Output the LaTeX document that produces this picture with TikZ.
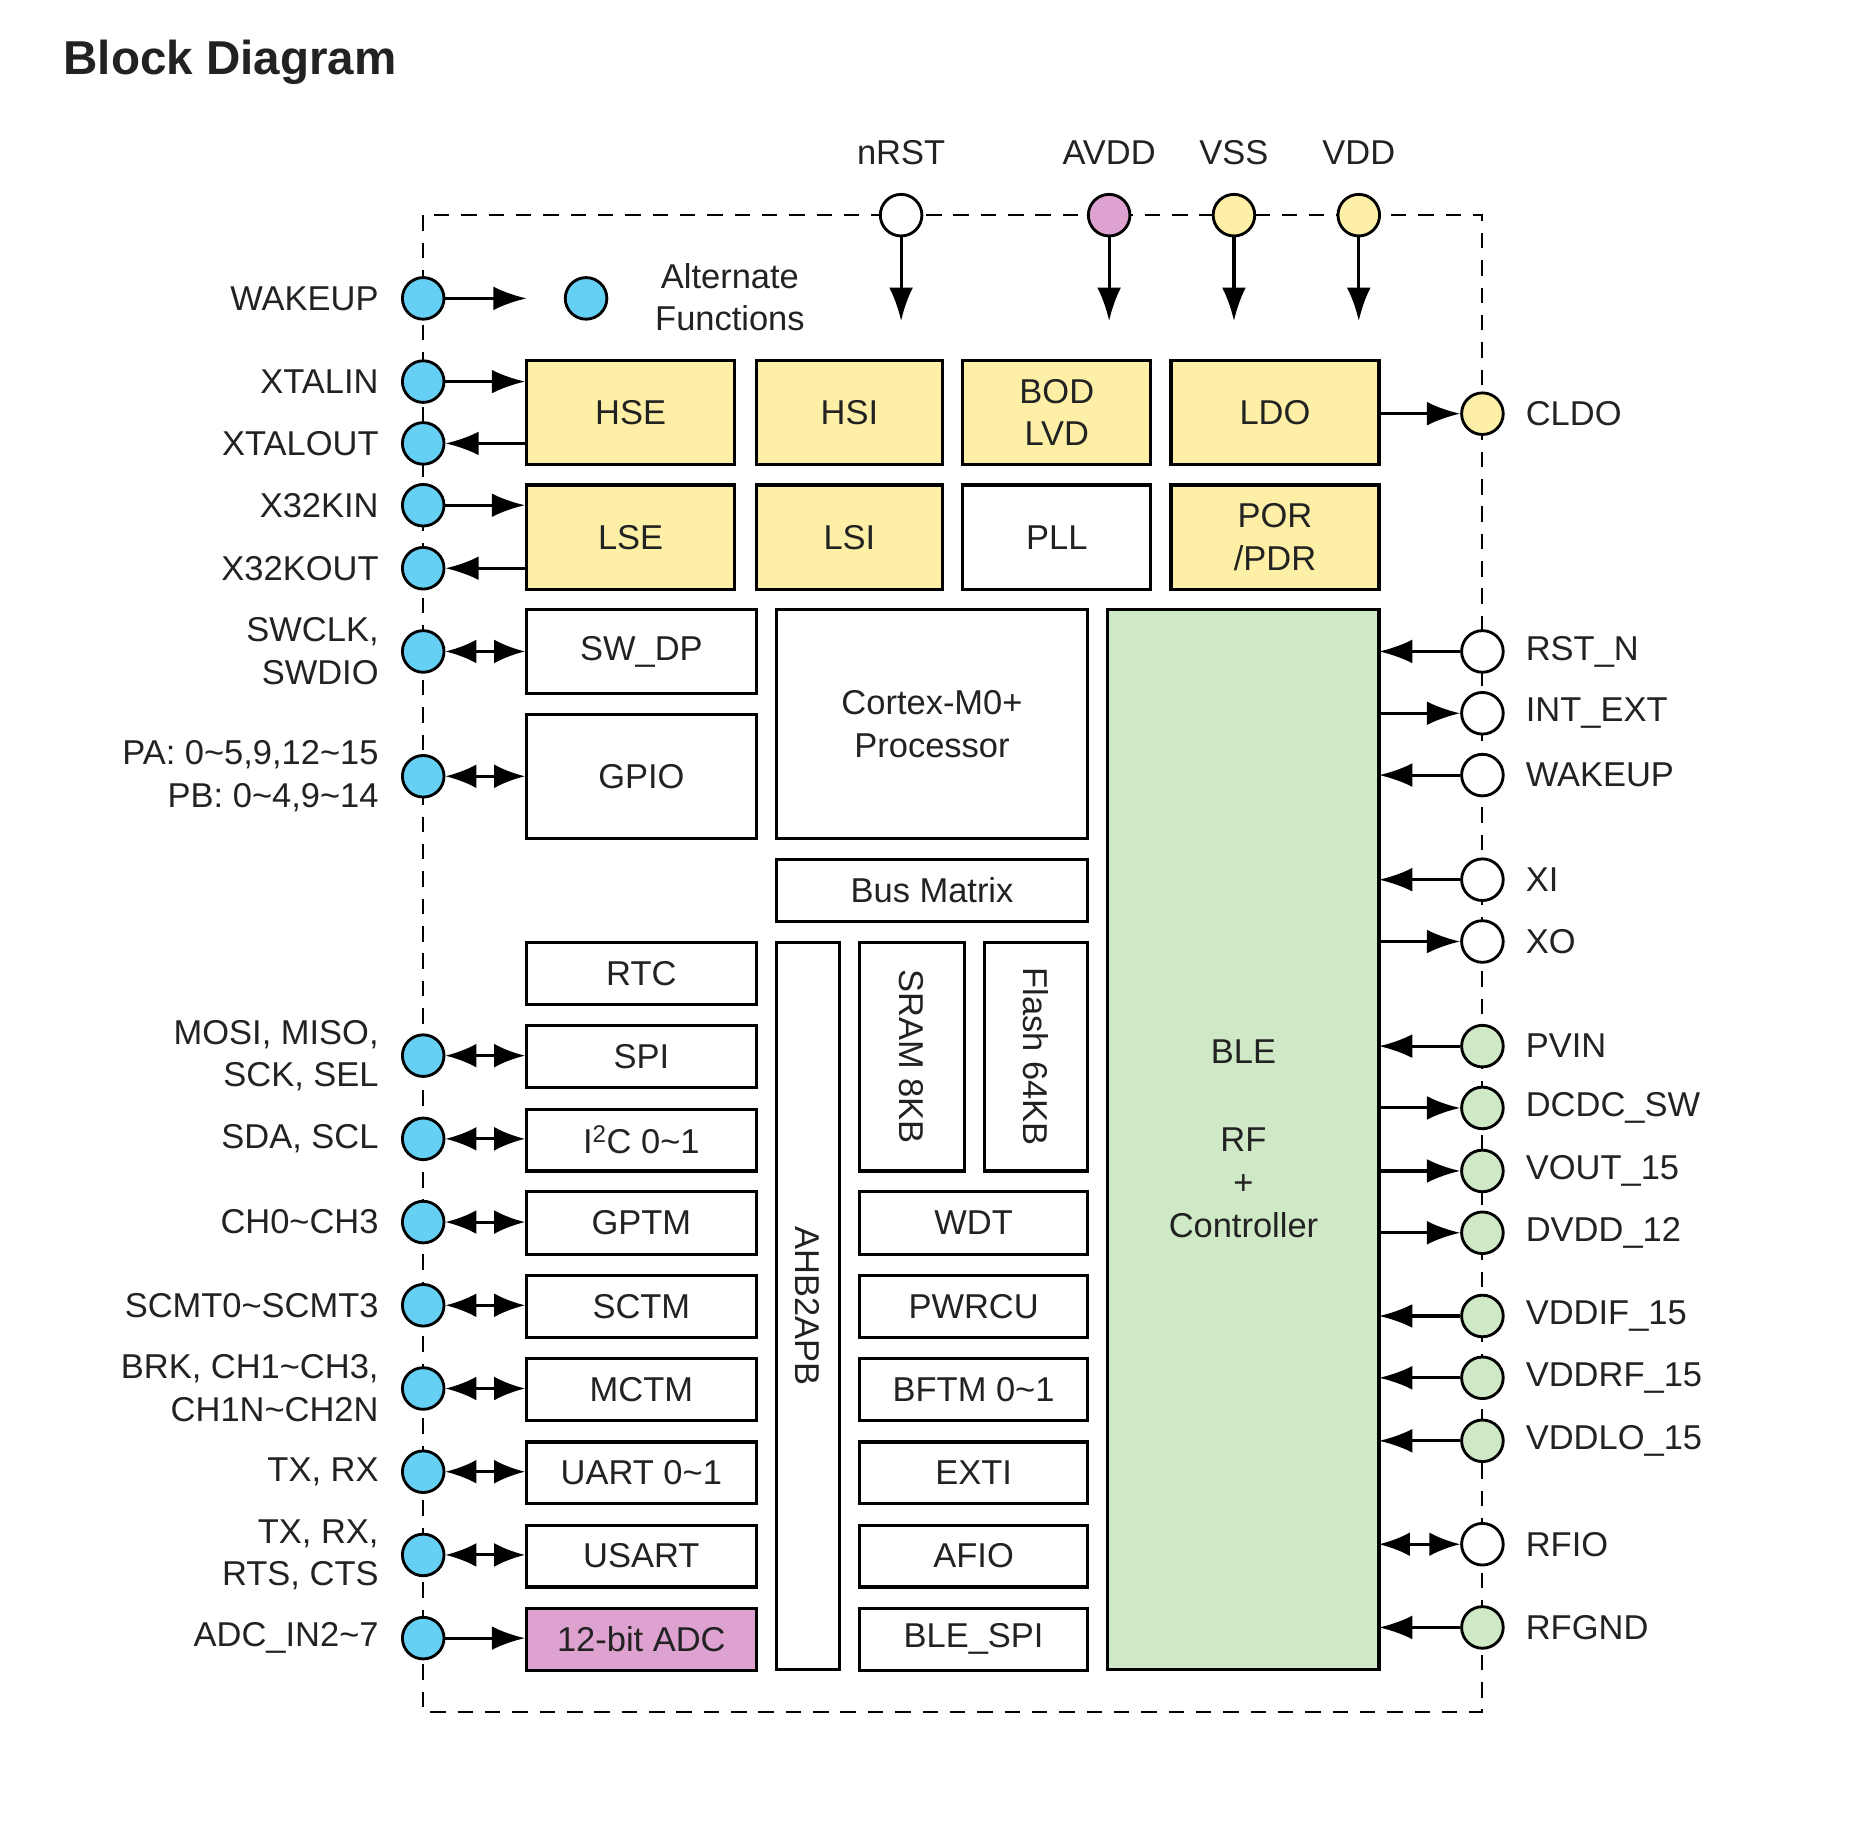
\documentclass[tikz,border=0pt]{standalone}
\usepackage{fontspec}
\setmainfont{Liberation Sans}
\usetikzlibrary{arrows.meta}
\definecolor{cy}{HTML}{66D0F4}
\definecolor{ye}{HTML}{FDF0A6}
\definecolor{pk}{HTML}{DDA2CF}
\definecolor{gr}{HTML}{CFE9C6}
\definecolor{tx}{HTML}{222222}
\newcommand\bx[7]{\pgfmathsetmacro\bw{#4-#2}\pgfmathsetmacro\bh{#5-#3}%
\node[box,fill=#6,minimum width=\bw pt,minimum height=\bh pt] (#1) at ({(#2+#4)/2},{(#3+#5)/2}) {#7};}
\begin{document}
\begin{tikzpicture}[x=1pt,y=-1pt,
  every node/.style={font=\fontsize{29}{36}\selectfont,text=tx},
  box/.style={draw=black,line width=2.6pt,inner sep=0pt,align=center},
  pin/.style={circle,draw=black,line width=2.4pt,minimum size=35pt,inner sep=0pt},
  arr/.style={line width=2.6pt,-{Latex[length=28pt,width=20pt]}},
  barr/.style={line width=2.6pt,{Latex[length=26pt,width=20pt]}-{Latex[length=26pt,width=20pt]}},
  lab/.style={anchor=east,align=right},
  rlab/.style={anchor=west,align=left}]
\useasboundingbox (0,0) rectangle (1568,1538);
\node[anchor=west,font=\fontsize{40}{44}\selectfont\bfseries] (title) at (50,52) {Block Diagram};
\draw[line width=1.8pt,dash pattern=on 13pt off 10pt] (356,181) rectangle (1247,1440);
% blocks
\bx{HSE}{443}{303}{618}{391}{ye}{HSE}
\bx{HSI}{636}{303}{793}{391}{ye}{HSI}
\bx{BOD}{810}{303}{968}{391}{ye}{BOD\\LVD}
\bx{LDO}{985}{303}{1160}{391}{ye}{LDO}
\bx{LSE}{443}{408}{618}{496}{ye}{LSE}
\bx{LSI}{636}{408}{793}{496}{ye}{LSI}
\bx{PLL}{810}{408}{968}{496}{white}{PLL}
\bx{POR}{985}{408}{1160}{496}{ye}{POR\\/PDR}
\bx{SWDP}{443}{513}{636}{583}{white}{SW\_DP}
\bx{GPIO}{443}{601}{636}{705}{white}{GPIO}
\bx{CPU}{653}{513}{915}{705}{white}{Cortex-M0+\\Processor}
\bx{BUS}{653}{723}{915}{775}{white}{Bus Matrix}
\bx{BLE}{932}{513}{1160}{1404}{gr}{}
\node (bletxt) at (1046,958) [align=center] {BLE\\[38pt]RF\\+\\Controller};
\bx{RTC}{443}{793}{636}{845}{white}{RTC}
\bx{SPI}{443}{863}{636}{915}{white}{SPI}
\bx{IIC}{443}{933}{636}{985}{white}{I\textsuperscript{2}C 0\textasciitilde1}
\bx{GPTM}{443}{1002}{636}{1055}{white}{GPTM}
\bx{SCTM}{443}{1073}{636}{1125}{white}{SCTM}
\bx{MCTM}{443}{1143}{636}{1195}{white}{MCTM}
\bx{UART}{443}{1213}{636}{1265}{white}{UART 0\textasciitilde1}
\bx{USART}{443}{1283}{636}{1335}{white}{USART}
\bx{ADC}{443}{1353}{636}{1405}{pk}{12-bit ADC}
\bx{AHB}{653}{793}{706}{1404}{white}{}
\node[rotate=-90] (ahbt) at (AHB) {AHB2APB};
\bx{SRAM}{723}{793}{811}{985}{white}{}
\node[rotate=-90] (sramt) at (SRAM) {SRAM 8KB};
\bx{FLASH}{828}{793}{915}{985}{white}{}
\node[rotate=-90] (flasht) at (FLASH) {Flash 64KB};
\bx{WDT}{723}{1002}{915}{1055}{white}{WDT}
\bx{PWRCU}{723}{1073}{915}{1125}{white}{PWRCU}
\bx{BFTM}{723}{1143}{915}{1195}{white}{BFTM 0\textasciitilde1}
\bx{EXTI}{723}{1213}{915}{1265}{white}{EXTI}
\bx{AFIO}{723}{1283}{915}{1335}{white}{AFIO}
\bx{BLESPI}{723}{1353}{915}{1405}{white}{BLE\_SPI}
% top pins
\foreach \n/\x/\c/\t in {nrst/758/white/nRST,avdd/933/pk/AVDD,vss/1038/ye/VSS,vdd/1143/ye/VDD}{
  \node[pin,fill=\c] (\n) at (\x,181) {};
  \node (\n l) at (\x,128) {\t};
  \coordinate (\n e) at (\x,270);
  \draw[arr] (\n) -- (\n e);}
% legend
\node[pin,fill=cy] (wk) at (356,251) {};
\node[lab] (wkl) at (322,251) {WAKEUP};
\coordinate (wke) at (443,251);
\draw[arr] (wk) -- (wke);
\node[pin,fill=cy] (leg) at (493,251) {};
\node[align=center] (legt) at (614,250) {Alternate\\Functions};
% left pins
\foreach \n/\y/\t/\b/\m in {
 p1/321/XTALIN/HSE/i, p2/373/XTALOUT/HSE/o, p3/425/X32KIN/LSE/i, p4/478/X32KOUT/LSE/o,
 p5/548/{SWCLK,\\SWDIO}/SWDP/b, p6/653/{PA: 0\textasciitilde5,9,12\textasciitilde15\\PB: 0\textasciitilde4,9\textasciitilde14}/GPIO/b,
 p7/888/{MOSI, MISO,\\SCK, SEL}/SPI/b, p8/958/{SDA, SCL}/IIC/b, p9/1028/CH0\textasciitilde CH3/GPTM/b,
 p10/1098/SCMT0\textasciitilde SCMT3/SCTM/b, p11/1168/{BRK, CH1\textasciitilde CH3,\\CH1N\textasciitilde CH2N}/MCTM/b,
 p12/1238/{TX, RX}/UART/b, p13/1308/{TX, RX,\\RTS, CTS}/USART/b, p14/1378/ADC\_IN2\textasciitilde 7/ADC/i}{
  \node[pin,fill=cy] (\n) at (356,\y) {};
  \node[lab] (\n l) at (322,\y) {\t};
  \coordinate (\n e) at (\b.west|-\n);
  \if\m i \draw[arr] (\n) -- (\n e);\fi
  \if\m o \draw[arr] (\n e) -- (\n);\fi
  \if\m b \draw[barr] (\n) -- (\n e);\fi}
% right pins
\foreach \n/\y/\t/\c/\m in {
 r0/348/CLDO/ye/o, r1/548/RST\_N/white/i, r2/600/INT\_EXT/white/o, r3/652/WAKEUP/white/i,
 r4/740/XI/white/i, r5/792/XO/white/o, r6/880/PVIN/gr/i, r7/932/DCDC\_SW/gr/o,
 r8/985/VOUT\_15/gr/o, r9/1037/DVDD\_12/gr/o, r10/1107/VDDIF\_15/gr/i, r11/1159/VDDRF\_15/gr/i,
 r12/1212/VDDLO\_15/gr/i, r13/1299/RFIO/white/b, r14/1369/RFGND/gr/i}{
  \node[pin,fill=\c] (\n) at (1247,\y) {};
  \node[rlab] (\n l) at (1280,\y) {\t};
  \coordinate (\n e) at (1160,\y);
  \if\m i \draw[arr] (\n) -- (\n e);\fi
  \if\m o \draw[arr] (\n e) -- (\n);\fi
  \if\m b \draw[barr] (\n) -- (\n e);\fi}
\end{tikzpicture}
\end{document}
